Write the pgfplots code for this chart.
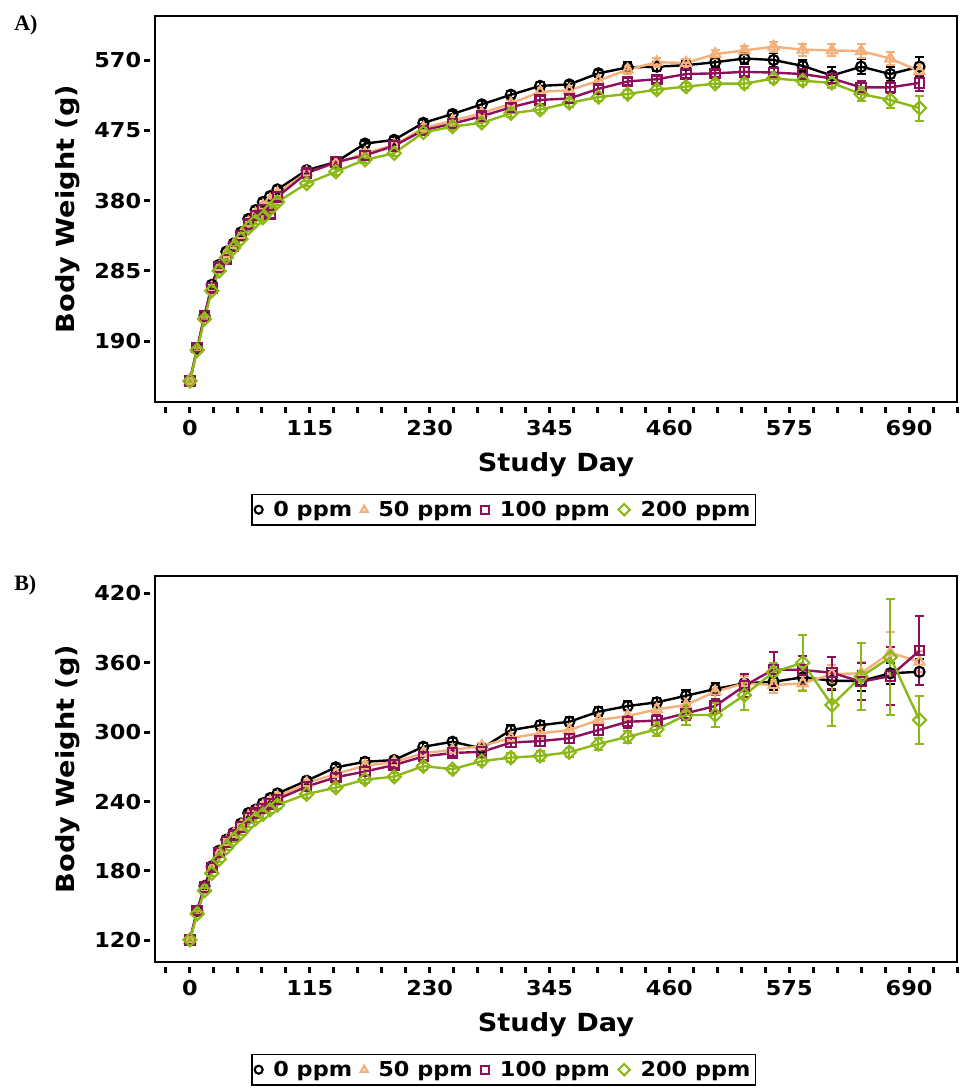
\documentclass[border=0pt]{standalone}
\usepackage{fontspec}
\setmainfont{DejaVu Sans}[FakeStretch=1.09]
\newfontfamily\panelfont{Liberation Serif}
\usepackage{pgfplots}
\usepackage{pgfplotstable}
\pgfplotsset{compat=1.18}

\definecolor{c50}{HTML}{F4B07A}
\definecolor{c100}{HTML}{8E0F5A}
\definecolor{c200}{HTML}{8CB918}

% Mean body weight (g) and error by study day, panel A
\pgfplotstableread{
day m0 e0 m50 e50 m100 e100 m200 e200
0 136 1 136 1 136 1 136 1
7 180 2 180 2 181 2 178 2
14 224 2 222 2 224 2 220 2
21 266 3 262 3 262 3 258 3
28 293 3 290 3 290 3 285 3
35 311 3 308 3 300 3 303 3
42 322 3 320 3 318 3 316 3
49 337 3 333 3 333 3 328 3
56 355 4 350 4 348 4 343 4
63 367 4 362 4 360 4 352 4
70 378 4 373 4 368 4 357 4
77 386 4 381 4 361 4 368 4
84 395 4 390 4 385 4 378 4
112 421 4 418 4 417 4 403 4
140 432 4 430 4 432 4 419 4
168 457 4 444 4 441 4 435 4
196 462 4 455 4 454 4 444 4
224 485 4 478 4 475 4 472 4
252 497 4 488 4 484 4 480 4
280 510 5 498 4 494 4 485 4
308 523 5 511 5 506 5 498 5
336 535 5 527 5 516 5 503 5
364 537 5 529 5 518 5 512 5
392 552 5 542 5 531 5 520 5
420 560 7 557 6 541 5 524 5
448 561 6 567 6 544 5 530 5
476 563 6 566 6 551 5 534 5
504 567 6 578 6 552 5 538 5
532 572 7 583 6 554 6 538 6
560 570 9 588 7 553 6 545 6
588 562 8 584 8 551 6 542 6
616 549 11 583 8 545 7 539 7
644 561 10 582 9 533 9 524 10
672 551 10 572 9 533 7 516 11
700 561 13 555 9 539 11 505 17
}\tabA

% Mean body weight (g) and error by study day, panel B
\pgfplotstableread{
day m0 e0 m50 e50 m100 e100 m200 e200
0 120.5 1 120.5 1 120.5 1 120.5 1
7 145.7 2 145 2 146 2 143 2
14 167 2 165 2 166 2 163 2
21 184 2 182 2 183 2 178 2
28 197.5 2 195 2 196 2 190 2
35 207 2 205 2 205 2 200 2
42 213 2 212 2 211 2 207 2
49 221 2 219 2 218 2 213 2
56 230 2 227 2 226 2 220 2
63 233 3 231 3 230 3 225 3
70 238.5 3 236 3 234 3 229 3
77 243 3 240 3 238 3 233 3
84 247 3 244 3 242 3 237 3
112 258 3 256 3 253 3 246.5 3
140 269.6 3 264 3 261 3 252 3
168 274.4 3 271 3 266 3 259 3
196 275.9 3 274 3 271.6 3 261.5 3
224 287.4 3 282 3 279 3 270.7 3
252 291.7 3 284.6 3 282 3 268 3
280 286 3 288 3 283 3 275 3
308 301.8 4 295 4 291 4 278 4
336 306 4 299 4 292.3 4 279.5 4
364 309 4 301.8 4 294.7 4 282.6 4
392 317.7 4 310.5 4 301.8 4 289.8 5
420 322.6 4 314 4 309 5 296 5
448 325.8 4 319.7 4 310 5 302.4 6
476 331.5 5 323.5 5 316.3 6 314.8 9
504 337.3 5 335 6 322.6 6 314.8 10
532 342.2 6 342.2 6 340 10 332.1 13
560 343.6 7 340.7 7 354.3 15 352 8
588 347.4 7 342.2 6 353.7 12 360 24
616 344.5 8 350.2 8 351.4 14 323.5 18
644 344.2 9 350.9 10 343.6 16 347.9 29
672 350.9 9 368.7 18 348.5 25 364.7 50
700 352.2 11 360.9 9 370.4 30 310.5 21
}\tabB

\pgfplotsset{
  bwaxis/.style={
    scale only axis, width=601.5pt, height=289.5pt,
    xmin=-33.5, xmax=736,
    axis line style={line width=1.8pt},
    xtick={0,115,...,690},
    minor xtick={-23,0,...,736},
    xtick pos=lower, ytick pos=left,
    tick align=outside,
    major tick length=8.25pt, minor tick length=8.25pt,
    every tick/.style={black, line width=2.25pt, dash pattern=on 4.5pt off 3.75pt},
    ticklabel style={font=\bfseries\fontsize{15.4}{17}\selectfont},
    /pgf/number format/assume math mode=true,
    /pgf/number format/1000 sep={},
    xticklabel style={anchor=north, inner sep=0pt, yshift=-5.5pt},
    yticklabel style={anchor=east, inner sep=0pt, xshift=-2pt},
    xlabel={Study Day}, ylabel={Body Weight (g)},
    label style={font=\bfseries\fontsize{18.7}{21}\selectfont},
    xlabel style={at={(axis description cs:0.5,-0.1788)}, anchor=base},
    ylabel style={at={(axis description cs:-0.1085,0.5)}, anchor=center},
    legend columns=4,
    legend style={at={(0.435,-0.238)}, anchor=north, draw=black, line width=0.8pt,
      font=\bfseries\fontsize{15.4}{17}\selectfont, inner xsep=2pt, inner ysep=3pt,
      /tikz/every odd column/.append style={column sep=6pt},
      /tikz/every even column/.append style={column sep=4.5pt}},
    legend image code/.code={\draw[##1, mark size=3pt, line width=1.4pt] plot[only marks] coordinates {(0.2cm,0cm)};},
  },
  eb/.style={error bars/.cd, y dir=both, y explicit,
    error bar style={line width=1.5pt, solid},
    error mark options={rotate=90, line width=1.5pt, mark size=3.4pt}},
  s0/.style={black, line width=1.8pt, mark=o, mark size=3.8pt, mark options={line width=1.6pt, solid}},
  s50/.style={c50, line width=1.8pt, mark=triangle, mark size=4.4pt, mark options={line width=1.6pt, solid}},
  s100/.style={c100, line width=1.8pt, mark=square, mark size=3.5pt, mark options={line width=1.6pt, solid}},
  s200/.style={c200, line width=1.8pt, mark=square, mark size=3.5pt, mark options={line width=1.6pt, solid, rotate=45}},
}

\begin{document}
\begin{tikzpicture}
\useasboundingbox (0,0) rectangle (720pt,-816.75pt);

\node[anchor=west, inner sep=0pt, font=\panelfont\bfseries\fontsize{16.5}{18}\selectfont] at (10.5pt,-18.75pt) {A)};
\node[anchor=west, inner sep=0pt, font=\panelfont\bfseries\fontsize{16.5}{18}\selectfont] at (10.5pt,-438.75pt) {B)};

\begin{axis}[bwaxis, at={(116.25pt,-12pt)}, anchor=north west,
  ymin=107.6, ymax=629.5, ytick={190,285,380,475,570}]
  \addplot[s0, eb] table[x=day, y=m0, y error=e0] {\tabA};
  \addplot[s50, eb] table[x=day, y=m50, y error=e50] {\tabA};
  \addplot[s100, eb] table[x=day, y=m100, y error=e100] {\tabA};
  \addplot[s200, eb] table[x=day, y=m200, y error=e200] {\tabA};
  \legend{0 ppm, 50 ppm, 100 ppm, 200 ppm}
\end{axis}

\begin{axis}[bwaxis, at={(116.25pt,-432pt)}, anchor=north west,
  ymin=101.3, ymax=435, ytick={120,180,240,300,360,420}]
  \addplot[s0, eb] table[x=day, y=m0, y error=e0] {\tabB};
  \addplot[s50, eb] table[x=day, y=m50, y error=e50] {\tabB};
  \addplot[s100, eb] table[x=day, y=m100, y error=e100] {\tabB};
  \addplot[s200, eb] table[x=day, y=m200, y error=e200] {\tabB};
  \legend{0 ppm, 50 ppm, 100 ppm, 200 ppm}
\end{axis}
\end{tikzpicture}
\end{document}
